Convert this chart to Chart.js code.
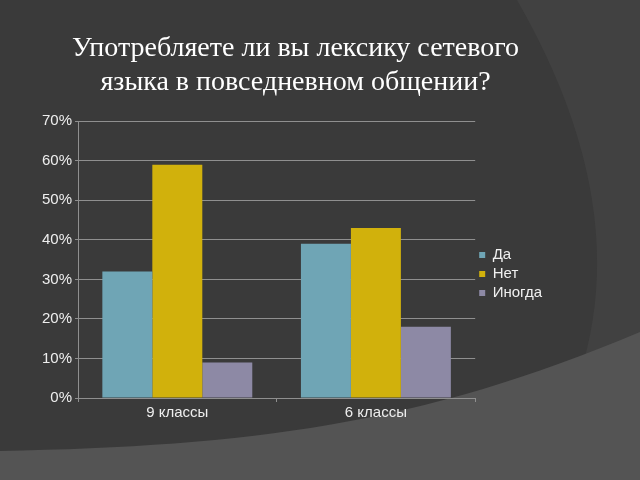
<!DOCTYPE html>
<html>
<head>
<meta charset="utf-8">
<script src="https://cdn.jsdelivr.net/npm/chart.js@4/dist/chart.umd.min.js"></script>
<style>
html,body{margin:0;padding:0;background:#3a3a3a;}
#wrap{width:640px;height:480px;}
</style>
</head>
<body>
<div id="wrap"><canvas id="c" width="640" height="480"></canvas></div>
<script>
const categories = ["9 классы", "6 классы"];
const seriesNames = ["Да", "Нет", "Иногда"];
const da = [32, 39];
const net = [59, 43];
const inogda = [9, 18];
const colors = ["#6fa5b5", "#d1b10c", "#8d89a5"];
const titleLines = ["Употребляете ли вы лексику сетевого", "языка в повседневном общении?"];

const bgPlugin = {
  id: 'bg',
  beforeDraw(chart) {
    const ctx = chart.ctx;
    ctx.save();
    ctx.fillStyle = '#3a3a3a';
    ctx.fillRect(0, 0, chart.width, chart.height);
    ctx.beginPath();
    ctx.moveTo(517, 0);
    ctx.quadraticCurveTo(672, 270, 527, 480);
    ctx.lineTo(640, 480);
    ctx.lineTo(640, 0);
    ctx.closePath();
    ctx.fillStyle = '#414141';
    ctx.fill();
    ctx.beginPath();
    ctx.moveTo(0, 451);
    ctx.bezierCurveTo(250, 446, 420, 425, 640, 332);
    ctx.lineTo(640, 480);
    ctx.lineTo(0, 480);
    ctx.closePath();
    ctx.fillStyle = '#545454';
    ctx.fill();
    ctx.restore();
  }
};

new Chart(document.getElementById('c'), {
  type: 'bar',
  data: {
    labels: categories,
    datasets: [
      { label: seriesNames[0], data: da, backgroundColor: colors[0] },
      { label: seriesNames[1], data: net, backgroundColor: colors[1] },
      { label: seriesNames[2], data: inogda, backgroundColor: colors[2] }
    ]
  },
  options: {
    responsive: false,
    animation: false,
    layout: { padding: { left: 39, right: 88, top: 32, bottom: 56 } },
    datasets: { bar: { categoryPercentage: 0.755, barPercentage: 1.0 } },
    plugins: {
      title: {
        display: true,
        text: titleLines,
        color: '#ffffff',
        font: { family: 'Liberation Serif', size: 28, weight: 'normal', lineHeight: 1.2 },
        padding: { top: 0, bottom: 22 }
      },
      legend: {
        position: 'right',
        title: { display: true, text: '', font: { size: 10 }, padding: { top: 40, bottom: 40 } },
        labels: {
          color: '#f0f0f0',
          font: { family: 'Liberation Sans', size: 15 },
          boxWidth: 6,
          boxHeight: 6,
          padding: 4
        }
      },
      tooltip: { enabled: false }
    },
    scales: {
      x: {
        grid: { offset: true, drawOnChartArea: false, color: '#8f8f8f', tickLength: 4 },
        border: { color: '#8f8f8f' },
        ticks: { color: '#eeeeee', font: { family: 'Liberation Sans', size: 15 }, padding: 2 }
      },
      y: {
        min: 0, max: 70,
        ticks: { stepSize: 10, color: '#eeeeee', font: { family: 'Liberation Sans', size: 15 }, padding: 3, callback: v => v + '%' },
        grid: { color: '#8f8f8f', tickLength: 3 },
        border: { color: '#8f8f8f' }
      }
    }
  },
  plugins: [bgPlugin]
});
</script>
</body>
</html>
